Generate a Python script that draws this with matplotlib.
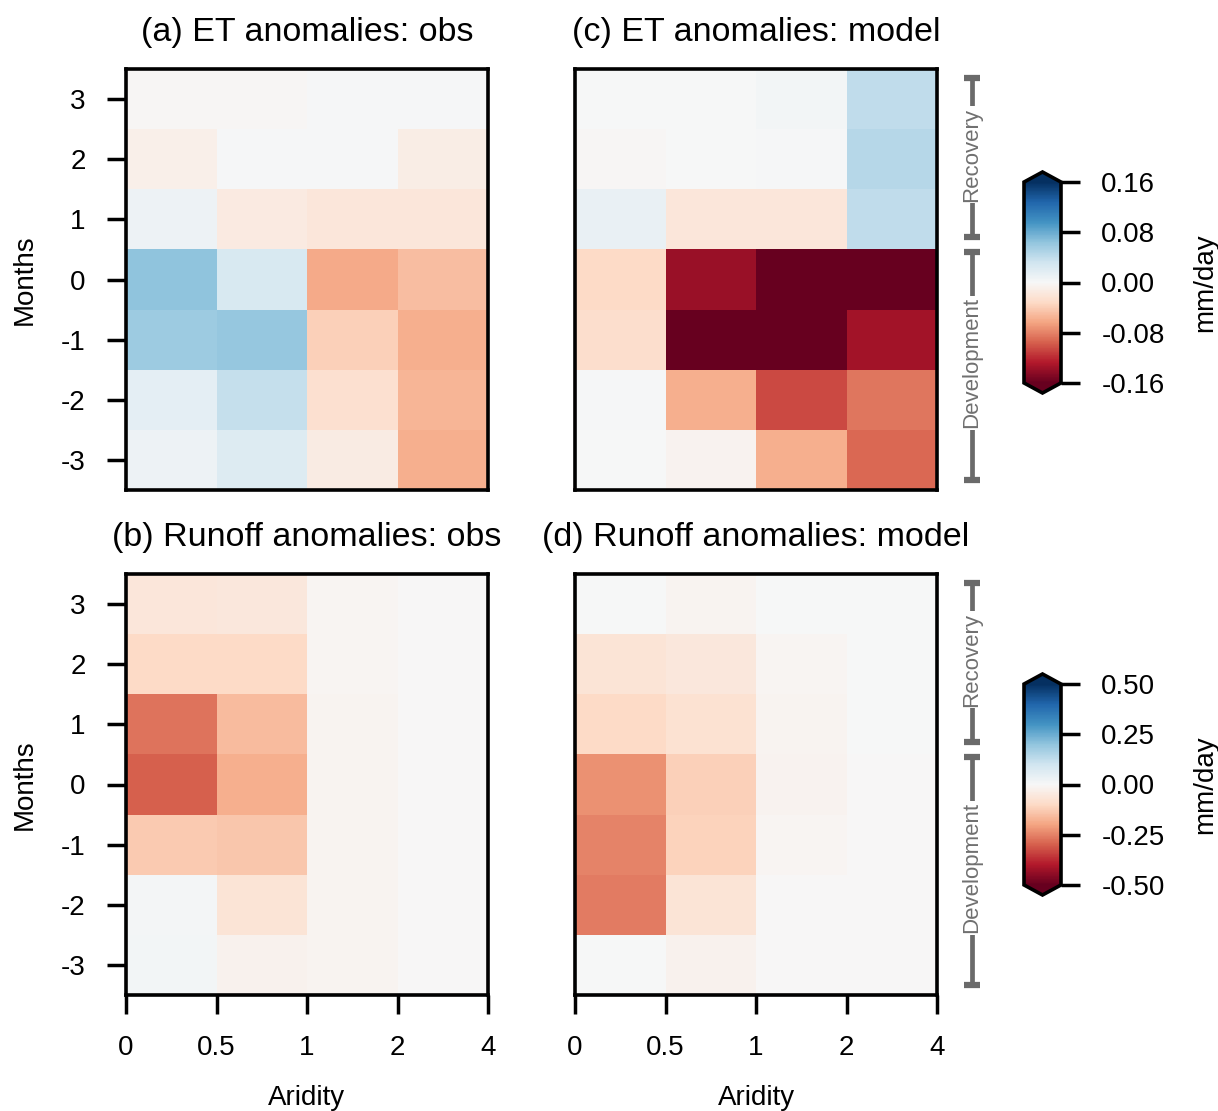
import numpy as np
import matplotlib
matplotlib.use("Agg")
import matplotlib.pyplot as plt

plt.rcParams['font.family'] = ['Liberation Sans', 'DejaVu Sans']
plt.rcParams['axes.unicode_minus'] = False

# months shown top -> bottom: 3, 2, 1, 0, -1, -2, -3
months = [3, 2, 1, 0, -1, -2, -3]
aridity_edges = ['0', '0.5', '1', '2', '4']

# ET anomalies (mm/day), rows = months above, cols = aridity bins
et_obs = [
    [-0.002, -0.002, 0.002, 0.002],
    [-0.010, 0.002, 0.002, -0.012],
    [0.008, -0.014, -0.020, -0.020],
    [0.064, 0.026, -0.061, -0.050],
    [0.058, 0.062, -0.038, -0.058],
    [0.016, 0.038, -0.026, -0.054],
    [0.008, 0.022, -0.013, -0.058],
]
et_model = [
    [0.000, 0.000, 0.004, 0.040],
    [-0.002, 0.000, 0.002, 0.046],
    [0.012, -0.020, -0.020, 0.040],
    [-0.032, -0.138, -0.190, -0.185],
    [-0.028, -0.200, -0.190, -0.134],
    [0.002, -0.058, -0.106, -0.086],
    [0.001, -0.006, -0.058, -0.092],
]

# Runoff anomalies (mm/day)
ro_obs = [
    [-0.060, -0.055, -0.010, -0.003],
    [-0.100, -0.100, -0.008, -0.002],
    [-0.270, -0.160, -0.012, -0.003],
    [-0.300, -0.180, -0.015, -0.003],
    [-0.130, -0.140, -0.012, -0.003],
    [0.010, -0.070, -0.012, -0.003],
    [0.012, -0.020, -0.015, -0.003],
]
ro_model = [
    [0.000, -0.015, 0.000, 0.000],
    [-0.070, -0.055, -0.010, 0.000],
    [-0.100, -0.075, -0.012, 0.000],
    [-0.230, -0.120, -0.018, -0.002],
    [-0.250, -0.115, -0.008, -0.002],
    [-0.260, -0.070, -0.003, -0.002],
    [0.000, -0.020, -0.002, -0.002],
]

W, H = 1218, 1111
fig = plt.figure(figsize=(W / 100, H / 100), dpi=100)


def box(l, t, r, b):
    return [l / W, 1 - b / H, (r - l) / W, (b - t) / H]


panels = [
    (box(126, 69, 488, 490), et_obs, '(a) ET anomalies: obs', 0.16, True, False),
    (box(575, 69, 937, 490), et_model, '(c) ET anomalies: model', 0.16, False, True),
    (box(126, 574, 488, 995), ro_obs, '(b) Runoff anomalies: obs', 0.5, True, False),
    (box(575, 574, 937, 995), ro_model, '(d) Runoff anomalies: model', 0.5, False, True),
]

xe = np.arange(len(aridity_edges))
ye = np.arange(-3.5, 4.0, 1.0)
meshes = []
for pos, data, title, lim, first_col, model in panels:
    ax = fig.add_axes(pos)
    z = np.array(data)[::-1]  # flip so row 0 is month -3
    m = ax.pcolormesh(xe, ye, z, cmap='RdBu', vmin=-lim, vmax=lim)
    meshes.append(m)
    ax.set_xlim(0, 4)
    ax.set_ylim(-3.5, 3.5)
    ax.set_title(title, fontsize=24.5, pad=20)
    for s in ax.spines.values():
        s.set_linewidth(2.6)
    ax.tick_params(length=14, width=2.5, pad=15, labelsize=20)
    bottom_row = 'Runoff' in title
    if bottom_row:
        ax.set_xticks(xe)
        ax.set_xticklabels(aridity_edges)
        ax.set_xlabel('Aridity', fontsize=20, labelpad=17)
    else:
        ax.set_xticks([])
    if first_col:
        ax.set_yticks(sorted(months))
        ax.set_ylabel('Months', fontsize=20, labelpad=17)
    else:
        ax.set_yticks([])
    if model:
        trans = ax.get_yaxis_transform()
        for y0, y1, lab in [(0.7, 3.35, 'Recovery'), (-3.33, 0.46, 'Development')]:
            ax.plot([1.097, 1.097], [y0, y1], color='#6a6a6a', lw=3.4,
                    transform=trans, clip_on=False, solid_capstyle='butt')
            ax.plot([1.097, 1.097], [y0, y1], ls='none', marker='_', ms=12, mew=4.5,
                    color='#6a6a6a', transform=trans, clip_on=False)
            ax.text(1.097, (y0 + y1) / 2 + 0.05, lab, rotation=90, ha='center', va='center',
                    fontsize=16, color='#707070', transform=trans,
                    bbox=dict(facecolor='white', edgecolor='none', pad=1))

cbar_specs = [
    (meshes[1], box(1024, 172, 1061, 393), [0.16, 0.08, 0.0, -0.08, -0.16]),
    (meshes[3], box(1024, 674, 1061, 895), [0.5, 0.25, 0.0, -0.25, -0.5]),
]
for m, pos, ticks in cbar_specs:
    cax = fig.add_axes(pos)
    cb = fig.colorbar(m, cax=cax, extend='both', ticks=ticks, format='%.2f')
    cb.outline.set_linewidth(2.6)
    cb.ax.tick_params(length=14, width=2.5, pad=15, labelsize=20)
    cb.set_label('mm/day', fontsize=20, labelpad=20)

fig.savefig('out.png', dpi=100)
